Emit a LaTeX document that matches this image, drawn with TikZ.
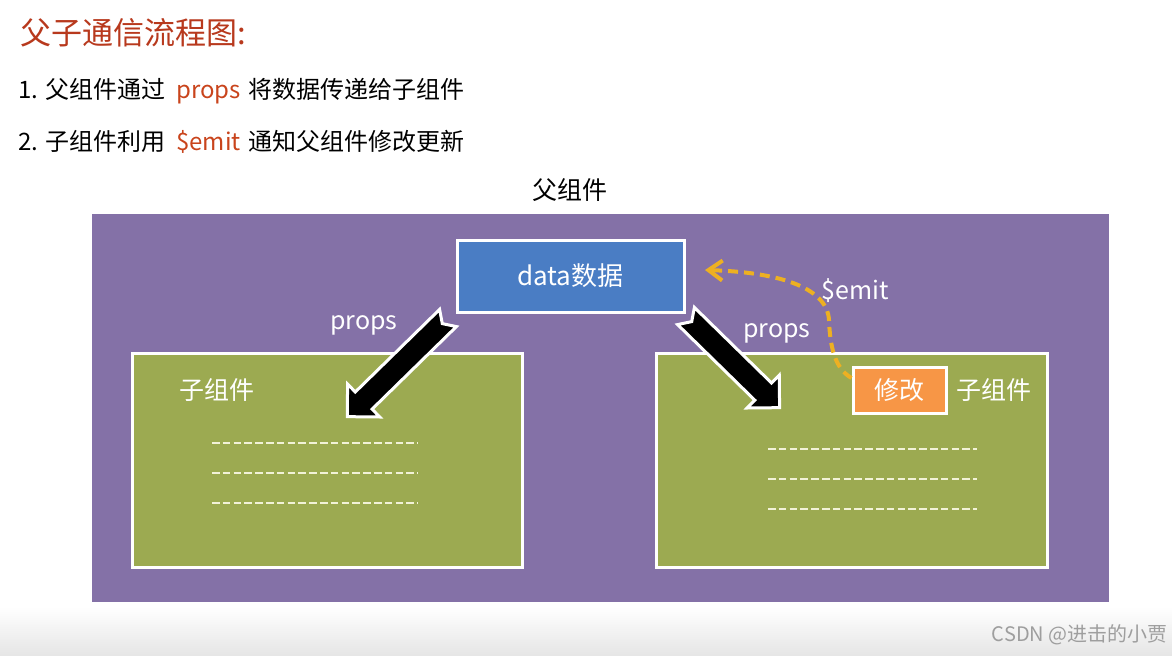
\documentclass[tikz,border=0pt]{standalone}
\usepackage{fontspec}
\setmainfont{Noto Sans CJK SC}
\usepackage{xcolor}
\usetikzlibrary{shadows,arrows.meta}

\definecolor{titlered}{HTML}{B8391D}
\definecolor{keyred}{HTML}{C9441C}
\definecolor{parentpurple}{HTML}{8471A7}
\definecolor{datablue}{HTML}{4A7DC4}
\definecolor{childgreen}{HTML}{9CAA51}
\definecolor{modorange}{HTML}{F79646}
\definecolor{emitgold}{HTML}{EDB022}
\definecolor{dashcream}{HTML}{F2F2D8}

\tikzset{
  box/.style={draw=white, line width=1.5pt, rectangle, inner sep=0pt},
  softshadow/.style={drop shadow={shadow xshift=0.8pt, shadow yshift=-0.8pt, opacity=0.25, fill=black}},
  txt/.style={inner sep=0pt, font=\fontsize{12.5pt}{15pt}\selectfont},
  wtxt/.style={txt, text=white},
  notetxt/.style={anchor=west, inner sep=0pt, font=\fontsize{12pt}{14pt}\selectfont},
  fatarrow/.style={draw=white, fill=black, line width=1.5pt, line join=miter},
  fillline/.style={draw=dashcream, line width=1pt, dash pattern=on 3.8pt off 1.6pt},
  emitline/.style={draw=emitgold, line width=2pt, dash pattern=on 5pt off 3pt,
    -{Straight Barb[length=7pt, width=10pt]}}
}

\begin{document}
\begin{tikzpicture}[x=0.5pt, y=-0.5pt]
\useasboundingbox (0,0) rectangle (1172,655);
\fill[white] (0,0) rectangle (1172,655);
\shade[top color=white, bottom color=black!10] (0,607) rectangle (1172,655);

% heading and notes
\node[anchor=west, inner sep=0pt, text=titlered, font=\fontsize{15.5pt}{18pt}\selectfont] (title) at (20,33) {父子通信流程图:};
\node[notetxt] (note1) at (18,91) {1. 父组件通过\hspace{0.45em}{\color{keyred}props}\hspace{0.3em}将数据传递给子组件};
\node[notetxt] (note2) at (18,142) {2. 子组件利用\hspace{0.45em}{\color{keyred}\$emit}\hspace{0.3em}通知父组件修改更新};

% boxes
\node[txt] (parentlbl) at (570,190) {父组件};
\node[box, fill=parentpurple, draw=white, softshadow, minimum width=510pt, minimum height=195.5pt] (parent) at (600,407.5) {};
\node[box, fill=childgreen, softshadow, minimum width=195pt, minimum height=107pt] (childL) at (327,460) {};
\node[box, fill=childgreen, softshadow, minimum width=195.5pt, minimum height=107pt] (childR) at (851.5,460) {};
\node[box, fill=datablue, softshadow, minimum width=113.5pt, minimum height=36pt, wtxt, font=\fontsize{13pt}{15pt}\selectfont] (data) at (570.5,276) {data数据};
\node[box, fill=modorange, softshadow, minimum width=46.5pt, minimum height=23pt, wtxt] (modify) at (899.5,390) {修改};

\node[wtxt] (childLlbl) at (217,390) {子组件};
\node[wtxt] (childRlbl) at (994,390) {子组件};

% placeholder lines
\foreach \y in {443,473,503}
  \draw[fillline] (212,\y) -- (418,\y);
\foreach \y in {449,479,509}
  \draw[fillline] (768,\y) -- (977,\y);

% props arrows
\begin{scope}[shift={(448,318)}, rotate=-135.6]
  \draw[fatarrow] (0,12) -- (118,12) -- (118,23) -- (141,0) -- (118,-23) -- (118,-12) -- (0,-12) -- (8,0) -- cycle;
\end{scope}
\begin{scope}[shift={(686,316)}, rotate=-44.4]
  \draw[fatarrow] (0,12) -- (108,12) -- (108,23) -- (131,0) -- (108,-23) -- (108,-12) -- (0,-12) -- (8,0) -- cycle;
\end{scope}
\node[wtxt] (propsL) at (364,325) {props};
\node[wtxt] (propsR) at (777,333) {props};

% emit
\coordinate (emitend) at (705,270);
\draw[emitline] ([yshift=6pt]modify.west) .. controls (834,368) and (830,345) .. (829,320)
  .. controls (827,286) and (775,272) .. (emitend);
\node[wtxt] (emitlbl) at (855,291) {\$emit};

% watermark
\node[anchor=east, inner sep=0pt, text=black!38, font=\fontsize{10pt}{12pt}\selectfont] (mark) at (1168,635) {CSDN @进击的小贾};
\end{tikzpicture}
\end{document}
